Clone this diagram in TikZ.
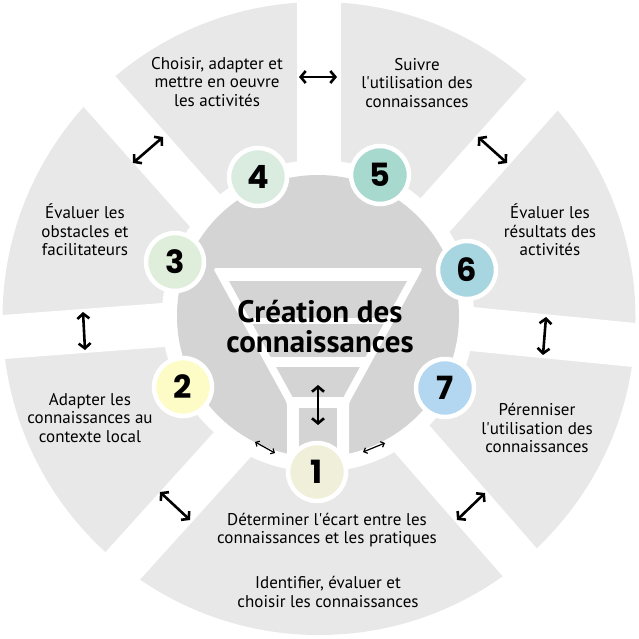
\documentclass[tikz,border=0pt]{standalone}
\usepackage{fontspec}
\setmainfont{PT Sans}
\newfontfamily\numfont{Poppins}
\usepackage{tikz}
\usetikzlibrary{arrows.meta}
\usetikzlibrary{positioning}
\usepackage{xcolor}
\definecolor{segbg}{HTML}{E8E8E8}
\definecolor{diskbg}{HTML}{D4D4D4}
\definecolor{cone}{HTML}{EFEFDA}
\definecolor{ctwo}{HTML}{FDFCC6}
\definecolor{cthree}{HTML}{DFEEDA}
\definecolor{cfour}{HTML}{DAEBE0}
\definecolor{cfive}{HTML}{A8D9CF}
\definecolor{csix}{HTML}{A7D5E0}
\definecolor{cseven}{HTML}{B3D7F0}

\begin{document}
\begin{tikzpicture}[x=1pt, y=-1pt,
	every node/.style={font=\fontsize{17}{18.5}\selectfont, align=center, inner sep=0pt},
	gap/.style={white, line width=44pt},
	num/.style={circle, draw=white, line width=4.5pt, minimum size=58pt, font=\numfont\bfseries\fontsize{32}{32}\selectfont},
	bigarrow/.style={{Straight Barb[length=5pt,width=12pt]}-{Straight Barb[length=5pt,width=12pt]}, line width=2.6pt},
	smallarrow/.style={{Straight Barb[length=3pt,width=6pt]}-{Straight Barb[length=3pt,width=6pt]}, line width=1.2pt}]
				\useasboundingbox (0,0) rectangle (639,639);
				\fill[segbg] (319,318.5) circle[radius=316.5];
				
				\draw[gap] (318.5,-10) -- (318.5,200);
				\draw[gap] (59,46) -- (249,260);
				\draw[gap] (582,50) -- (396,259);
				\draw[gap] (-30,339.5) -- (250,318.5);
				\draw[gap] (670,348.5) -- (390,321);
				\draw[gap] (95,596.5) -- (260,414);
				\draw[gap] (550,597) -- (385,408);
				
				\fill[white] (318,316) circle[radius=156];
				\fill[diskbg] (318,316) circle[radius=141];
				
				\fill[white, rounded corners=3pt] (213,268) -- (423,268) -- (349,403) -- (349,460) -- (287,460) -- (287,403) -- cycle;
				\begin{scope}
					\clip (229,281) -- (407,281) -- (343.4,397) -- (292.6,397) -- cycle;
					\fill[diskbg] (220,281) rectangle (420,318);
					\fill[diskbg] (220,324) rectangle (420,357);
					\fill[diskbg] (220,367) rectangle (420,397);
				\end{scope}
				\fill[diskbg] (299,408) rectangle (337,450);
				
				\node[font=\bfseries\fontsize{31}{30}\selectfont] (title) at (320,327) {Création des\\connaissances};
				
				\node[num, fill=cone] (n1) at (317,472) {1};
				\node[num, fill=ctwo] (n2) at (183,387) {2};
				\node[num, fill=cthree] (n3) at (175,262) {3};
				\node[num, fill=cfour] (n4) at (258,177) {4};
				\node[num, fill=cfive] (n5) at (380,175) {5};
				\node[num, fill=csix] (n6) at (467,270) {6};
				\node[num, fill=cseven] (n7) at (445,388) {7};
				
				\node (t4) at (217,82) {Choisir, adapter et\\mettre en oeuvre\\les activités};
				\node (t5) at (417,83) {Suivre\\l\textquotesingle utilisation des\\connaissances};
				\node (t6) at (550,230) {Évaluer les\\résultats des\\activités};
				\node (t3) at (85,230) {Évaluer les\\obstacles et\\facilitateurs};
				\node (t2) at (90,418) {Adapter les\\connaissances au\\contexte local};
				\node (t7) at (537,428) {Pérenniser\\l\textquotesingle utilisation des\\connaissances};
				\node (t1a) at (327,530) {Déterminer l\textquotesingle écart entre les\\connaissances et les pratiques};
				\node (t1b) at (328,592) {Identifier, évaluer et\\choisir les connaissances};
				
				\coordinate (a45s) at (478,137);
				\coordinate (a45e) at (507,163);
				\coordinate (a90s) at (299,77);
				\coordinate (a90e) at (337,77);
				\coordinate (a135s) at (133,163);
				\coordinate (a135e) at (163,137);
				\coordinate (a180s) at (83,312);
				\coordinate (a180e) at (85,350);
				\coordinate (a225s) at (160,492);
				\coordinate (a225e) at (190,520);
				\coordinate (a315s) at (457,520);
				\coordinate (a315e) at (485,493);
				\coordinate (a0s) at (546,317);
				\coordinate (a0e) at (543,355);
				\coordinate (fs) at (318,385);
				\coordinate (fe) at (318,425);
				\coordinate (ls) at (255,442);
				\coordinate (le) at (275,453);
				\coordinate (rs) at (363,452);
				\coordinate (re) at (385,443);
				
				\draw[bigarrow] (a45s) -- (a45e);
				\draw[bigarrow] (a90s) -- (a90e);
				\draw[bigarrow] (a135s) -- (a135e);
				\draw[bigarrow] (a180s) -- (a180e);
				\draw[bigarrow] (a225s) -- (a225e);
				\draw[bigarrow] (a315s) -- (a315e);
				\draw[bigarrow] (a0s) -- (a0e);
				\draw[bigarrow] (fs) -- (fe);
				\draw[smallarrow] (ls) -- (le);
				\draw[smallarrow] (rs) -- (re);
			\end{tikzpicture}
\end{document}
